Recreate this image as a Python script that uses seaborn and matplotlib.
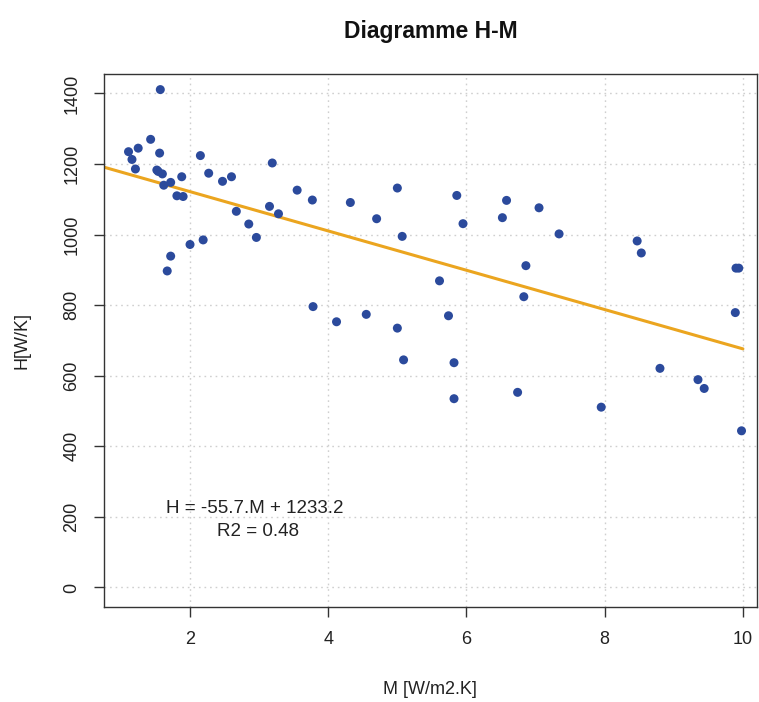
import numpy as np
import pandas as pd
import matplotlib
matplotlib.use("Agg")
import matplotlib.pyplot as plt
import seaborn as sns

# values
M_VALUES = [1.57, 1.11, 1.16, 1.25, 1.21, 1.43, 1.56, 1.52, 1.54, 1.60,
            1.62, 1.72, 1.88, 1.81, 1.90, 2.15, 2.27, 2.47, 2.60, 2.67,
            2.85, 2.96, 3.19, 3.15, 3.28, 3.55, 3.77, 2.00, 2.19, 1.72,
            1.67, 4.32, 4.70, 5.00, 5.07, 5.86, 5.95, 6.58, 6.52, 6.86,
            6.83, 5.61, 3.78, 4.12, 4.55, 5.00, 5.74, 5.09, 5.82, 5.82,
            6.74, 7.05, 7.34, 8.47, 8.53, 9.90, 9.94, 9.89, 8.80, 9.35,
            9.44, 7.95, 9.98]
H_VALUES = [1411, 1235, 1213, 1245, 1186, 1270, 1231, 1183, 1179, 1172,
            1140, 1148, 1164, 1110, 1108, 1224, 1174, 1151, 1164, 1066,
            1030, 992, 1203, 1080, 1059, 1126, 1098, 972, 985, 939,
            897, 1091, 1045, 1132, 995, 1111, 1031, 1097, 1048, 912,
            824, 869, 796, 753, 774, 735, 770, 645, 637, 535,
            553, 1076, 1002, 982, 948, 905, 905, 779, 621, 589,
            564, 511, 444]
SLOPE = -55.7
INTERCEPT = 1233.2
R2 = 0.48

X_TICKS = [2, 4, 6, 8, 10]
Y_TICKS = [0, 200, 400, 600, 800, 1000, 1200, 1400]

POINT_COLOR = "#2B4A9C"
LINE_COLOR = "#EBA51F"
TEXT = "#222222"

df = pd.DataFrame({"M": M_VALUES, "H": H_VALUES})

sns.set_style("white")
plt.rcParams["font.family"] = ["Liberation Sans", "DejaVu Sans"]

fig = plt.figure(figsize=(7.59, 7.02), dpi=100, facecolor="white")
ax = fig.add_axes([0.137, 0.135, 0.860, 0.760])

ax.set_xlim(0.755, 10.2)
ax.set_ylim(-56, 1456)

# R-style dotted grid
for xv in X_TICKS:
    ax.axvline(xv, color="#cfcfcf", linestyle=(0, (1.2, 2.8)), linewidth=1.0, zorder=0)
for yv in Y_TICKS:
    ax.axhline(yv, color="#cfcfcf", linestyle=(0, (1.2, 2.8)), linewidth=1.0, zorder=0)

# regression line, drawn up to M = 10
xl = np.array([0.0, 10.0])
ax.plot(xl, INTERCEPT + SLOPE * xl, color=LINE_COLOR, linewidth=2.2, zorder=2)

sns.scatterplot(data=df, x="M", y="H", ax=ax, color=POINT_COLOR, s=42,
                edgecolor="none", zorder=3)

ax.text(2.94, 225, f"H = {SLOPE}.M + {INTERCEPT}", ha="center", va="center",
        fontsize=13.5, color=TEXT)
ax.text(2.98, 160, f"R2 = {R2}", ha="center", va="center", fontsize=13.5, color=TEXT)

ax.set_xticks(X_TICKS)
ax.set_yticks(Y_TICKS)
ax.set_yticklabels([str(v) for v in Y_TICKS], rotation=90, va="center")
ax.tick_params(axis="both", direction="out", length=7, width=1, color="#333333",
               labelsize=13, labelcolor=TEXT, left=True, bottom=True, pad=10)
for spine in ax.spines.values():
    spine.set_edgecolor("#333333")
    spine.set_linewidth(1.0)

ax.set_xlabel("M [W/m2.K]", fontsize=13, color=TEXT, labelpad=24)
ax.set_ylabel("H[W/K]", fontsize=13, color=TEXT, labelpad=24)
ax.set_title("Diagramme H-M", fontsize=16.5, fontweight="bold", color="#111111", pad=26)

fig.savefig("out.png", dpi=100, facecolor="white")
